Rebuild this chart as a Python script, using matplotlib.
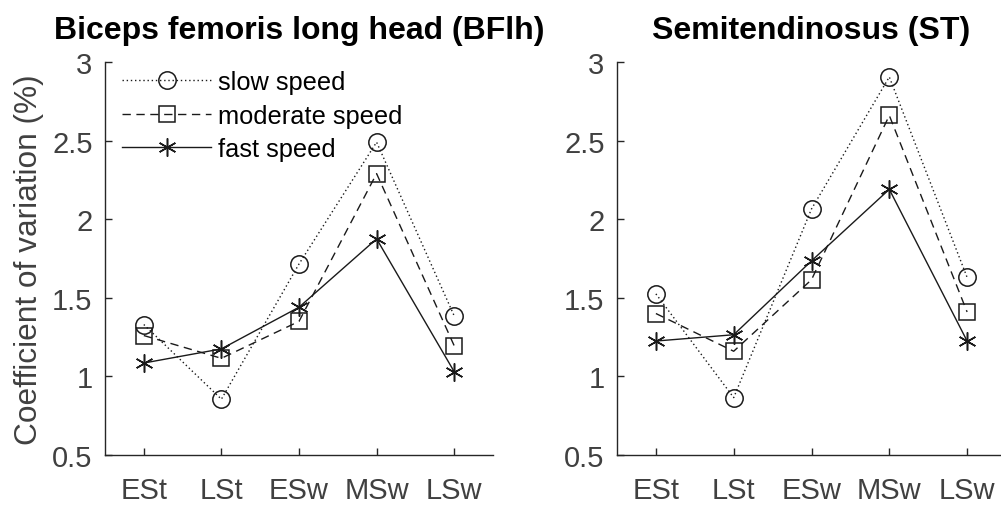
import matplotlib
matplotlib.use("Agg")
import matplotlib.pyplot as plt

phases = ["ESt", "LSt", "ESw", "MSw", "LSw"]
x = [1, 2, 3, 4, 5]

bflh_slow = [1.33, 0.855, 1.715, 2.49, 1.385]
bflh_moderate = [1.26, 1.115, 1.35, 2.29, 1.195]
bflh_fast = [1.085, 1.175, 1.44, 1.875, 1.03]

st_slow = [1.525, 0.865, 2.065, 2.905, 1.63]
st_moderate = [1.40, 1.16, 1.615, 2.66, 1.41]
st_fast = [1.225, 1.265, 1.735, 2.19, 1.225]

titles = ["Biceps femoris long head (BFlh)", "Semitendinosus (ST)"]
legend_labels = ["slow speed", "moderate speed", "fast speed"]
yticks = [0.5, 1, 1.5, 2, 2.5, 3]
ytick_labels = ["0.5", "1", "1.5", "2", "2.5", "3"]

plt.rcParams['font.family'] = ['Liberation Sans', 'DejaVu Sans']

fig = plt.figure(figsize=(10.01, 5.06), dpi=100)
ax1 = fig.add_axes([105/1001, 1-456/506, 388/1001, 393/506])
ax2 = fig.add_axes([617/1001, 1-456/506, 389/1001, 393/506])

asterisk = (6, 2, 0)
styles = [
    dict(linestyle=(0, (1, 2)), marker='o', markersize=12.5),
    dict(linestyle=(0, (6, 4)), marker='s', markersize=11),
    dict(linestyle='-', marker=asterisk, markersize=13),
]

gray = '#404040'
for ax, data, title in [(ax1, [bflh_slow, bflh_moderate, bflh_fast], titles[0]),
                        (ax2, [st_slow, st_moderate, st_fast], titles[1])]:
    for vals, st, lab in zip(data, styles, legend_labels):
        ax.plot(x, vals, color='#1a1a1a', linewidth=1.0, markerfacecolor='none',
                markeredgecolor='#1a1a1a', markeredgewidth=1.1, label=lab, **st)
    ax.set_xlim(0.5, 5.5)
    ax.set_ylim(0.5, 3)
    ax.set_xticks(x)
    ax.set_xticklabels(phases)
    ax.set_yticks(yticks)
    ax.set_yticklabels(ytick_labels)
    for s in ['top', 'right']:
        ax.spines[s].set_visible(False)
    for s in ['left', 'bottom']:
        ax.spines[s].set_color('#262626')
        ax.spines[s].set_linewidth(1.0)
    ax.tick_params(direction='in', length=5, width=1.0, color='#262626',
                   labelsize=21, labelcolor=gray)
    ax.tick_params(axis='x', pad=15)
    ax.tick_params(axis='y', pad=9)
    ax.set_title(title, fontsize=23, fontweight='bold', pad=17)

ax1.set_ylabel("Coefficient of variation (%)", fontsize=22.8, color=gray, labelpad=6)

ax1.legend(loc='upper left', bbox_to_anchor=(0.045, 0.98), frameon=False,
           fontsize=18.3, handlelength=3.5, handletextpad=0.25, labelspacing=0.38,
           borderaxespad=0, borderpad=0, numpoints=1)

fig.savefig("out.png", dpi=100)
